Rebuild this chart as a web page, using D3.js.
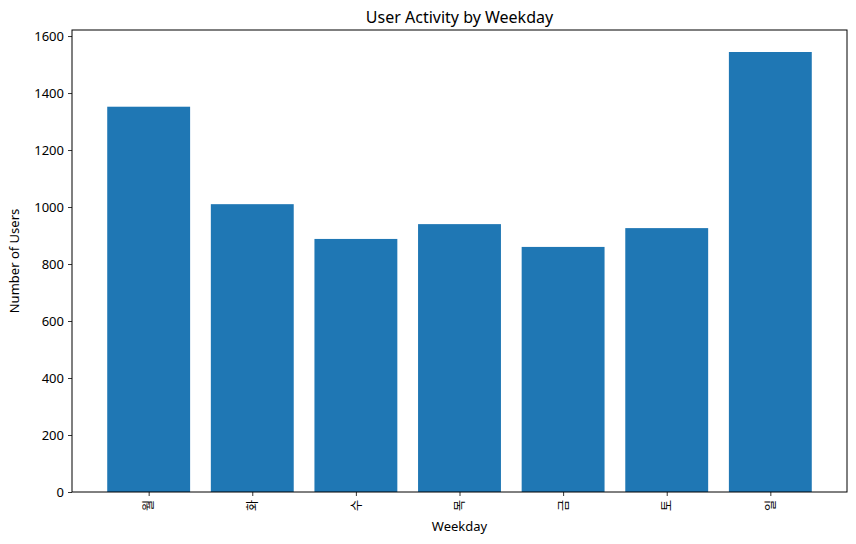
<!DOCTYPE html>
<html lang="ko">
<head>
<meta charset="utf-8">
<title>User Activity by Weekday</title>
<script src="https://d3js.org/d3.v7.min.js"></script>
<style>
    body { margin: 0; background: #fff; }
    svg text { font-family: "Noto Sans", "Noto Sans CJK KR", sans-serif; fill: #000; }
</style>
</head>
<body>
<svg id="chart" width="856" height="544"></svg>
<script>
// data
const weekdays = ["월", "화", "수", "목", "금", "토", "일"];
const users = [1352, 1010, 888, 940, 860, 926, 1544];
const yTicks = [0, 200, 400, 600, 800, 1000, 1200, 1400, 1600];

const W = 856, H = 544;
const margin = {top: 30, right: 9, bottom: 52, left: 72};
const iw = W - margin.left - margin.right;
const ih = H - margin.top - margin.bottom;

const svg = d3.select("#chart");
const g = svg.append("g").attr("transform", `translate(${margin.left},${margin.top})`);

// matplotlib-like: bar width 0.8, 5% margins on both axes
const xLo = -0.4 - 0.05 * 6.8, xHi = 6.4 + 0.05 * 6.8;
const x = d3.scaleLinear().domain([xLo, xHi]).range([0, iw]);
const y = d3.scaleLinear().domain([0, d3.max(users) * 1.05]).range([ih, 0]);

g.selectAll("rect.bar").data(users).enter()
    .append("rect").attr("class", "bar")
    .attr("x", (d, i) => x(i - 0.4))
    .attr("width", (d, i) => x(i + 0.4) - x(i - 0.4))
    .attr("y", d => y(d))
    .attr("height", d => y(0) - y(d))
    .attr("fill", "#1f77b4");

// y axis
const yAxis = g.append("g")
    .call(d3.axisLeft(y).tickValues(yTicks).tickSize(4).tickPadding(4).tickFormat(d3.format("d")));
yAxis.selectAll("text").style("font-size", "13px");

// x axis with rotated labels
const xAxis = g.append("g").attr("transform", `translate(0,${ih})`)
    .call(d3.axisBottom(x).tickValues(d3.range(weekdays.length)).tickSize(4).tickFormat(i => weekdays[i]));
xAxis.selectAll("text")
    .style("font-size", "12px")
    .attr("transform", "rotate(-90)")
    .attr("text-anchor", "end")
    .attr("dy", "0.35em")
    .attr("x", -8)
    .attr("y", 0);

[yAxis, xAxis].forEach(a => {
    a.select(".domain").remove();
    a.selectAll("line").attr("stroke", "#000").attr("stroke-width", 0.8);
});

// frame
g.append("rect")
    .attr("x", 0).attr("y", 0).attr("width", iw).attr("height", ih)
    .attr("fill", "none").attr("stroke", "#000").attr("stroke-width", 1);

// labels
svg.append("text")
    .attr("x", margin.left + iw / 2).attr("y", 23)
    .attr("text-anchor", "middle").style("font-size", "16px")
    .text("User Activity by Weekday");

svg.append("text")
    .attr("x", margin.left + iw / 2).attr("y", 531)
    .attr("text-anchor", "middle").style("font-size", "13px")
    .text("Weekday");

svg.append("text")
    .attr("transform", `translate(19,${margin.top + ih / 2}) rotate(-90)`)
    .attr("text-anchor", "middle").style("font-size", "13px")
    .text("Number of Users");
</script>
</body>
</html>
